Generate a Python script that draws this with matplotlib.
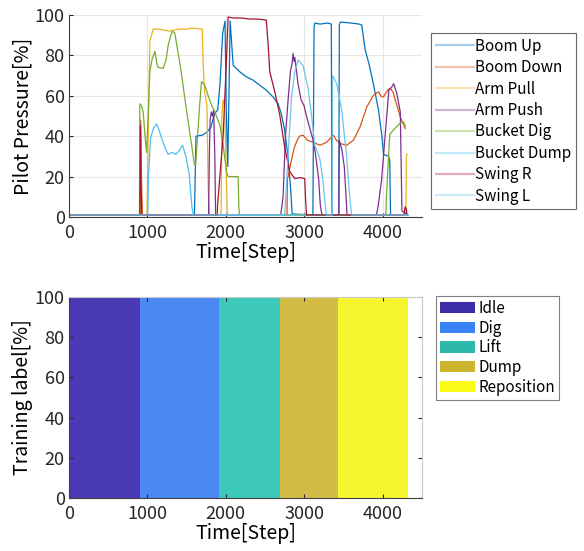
import numpy as np
import matplotlib
matplotlib.use("Agg")
import matplotlib.pyplot as plt
from matplotlib.patches import Patch

plt.rcParams['font.family'] = ['Noto Sans CJK JP', 'DejaVu Sans']
plt.rcParams['font.size'] = 12

# pilot pressure traces [%] vs time step
boom_up_x = [0, 900, 1600, 1620, 1700, 1760, 1811, 1854, 1897, 1926, 1960, 1990, 2005, 2025, 2040, 2055,
             2094, 2174, 2260, 2345, 2430, 2516, 2600, 2665, 2708, 2750, 2793, 2828, 2845,
             3110, 3125, 3135, 3200, 3300, 3345, 3352, 3440, 3447, 3460, 3600, 3700, 3733,
             3775, 3830, 3880, 3946, 3990, 4010, 4074, 4090, 4100, 4320]
boom_up_y = [1, 1, 1, 40, 40.5, 42, 44.6, 51, 53, 66, 91, 97, 55, 25, 60, 97,
             75, 72, 69.4, 67.8, 65.3, 62.8, 59.5, 56.2, 51, 43, 29.8, 13, 1.5,
             1, 94, 96, 95.5, 96, 95.5, 1, 1, 95, 96.5, 96, 95.5, 95,
             83, 75, 66, 53, 40, 31, 30, 28, 1, 1]

boom_down_x = [0, 905, 915, 925, 935, 2780, 2785, 2794, 2830, 2870, 2910, 2939, 2985, 3040, 3113,
               3200, 3285, 3370, 3410, 3455, 3540, 3626, 3711, 3797, 3882, 3946, 3983, 4010,
               4068, 4095, 4130, 4160, 4224, 4288]
boom_down_y = [1, 1, 48, 20, 1, 1, 19, 20, 27, 34, 38, 40, 40.5, 38, 37,
               35.5, 37, 40.5, 38, 36.4, 35.5, 38, 44.6, 54.5, 60.3, 62, 59.6, 59.5,
               63, 63.6, 62, 58, 49.6, 43.8]

arm_pull_x = [0, 905, 912, 920, 930, 995, 1010, 1032, 1074, 1150, 1277, 1400, 1500, 1576, 1683,
              1700, 1712, 1730, 1760, 1775, 1790, 1940, 1950, 1965, 1985, 2010, 2020,
              4295, 4302, 4310]
arm_pull_y = [1, 1, 35, 10, 1, 1, 40, 87, 93, 93, 92, 93, 93, 93.5, 93,
              93, 75, 62, 55, 15, 1, 1, 50, 58, 55, 15, 1,
              1, 31, 31]

arm_push_x = [0, 1780, 1790, 1800, 1815, 1830, 1845, 1860, 1870, 2700, 2730, 2760, 2794, 2823,
              2845, 2857, 2870, 2880, 2920, 2960, 2998, 3028, 3113, 3140, 3183, 3204, 3225,
              3440, 3447, 3480, 3510, 3530, 3545, 3920, 3940, 3985, 4030, 4079, 4110, 4140,
              4181, 4224, 4245, 4320]
arm_push_y = [1, 1, 30, 48, 52, 50, 53, 30, 1, 1, 10, 40, 58, 72,
              76, 81, 77, 79, 66, 58, 55, 50, 38, 32, 19, 6, 1,
              1, 38, 33, 25, 12, 1, 1, 5, 18, 40, 63, 64, 66,
              61, 52, 3, 1]

bucket_dig_x = [0, 900, 904, 925, 947, 970, 990, 1010, 1032, 1060, 1096, 1120, 1138, 1201, 1240,
                1265, 1300, 1320, 1350, 1384, 1427, 1491, 1555, 1600, 1615, 1640, 1662, 1690,
                1733, 1775, 1818, 1860, 1924, 1966, 2009, 2030, 2157, 2166, 2174, 4040, 4047,
                4090, 4160, 4224, 4267, 4288]
bucket_dig_y = [1, 1, 56, 55, 52, 40, 32, 50, 72, 78, 82, 76, 74, 73.6, 78,
                85, 90, 92, 91, 83, 73, 55, 38, 26, 26, 40, 53, 67,
                65.3, 60, 55.4, 52, 45.5, 35.6, 22.4, 20, 20, 5, 1, 1, 10,
                41, 44, 46.5, 47, 45]

bucket_dump_x = [0, 1005, 1015, 1040, 1080, 1117, 1150, 1181, 1230, 1265, 1320, 1363, 1410, 1448,
                 1491, 1534, 1568, 1585, 4320]
bucket_dump_y = [1, 1, 20, 39, 44, 46, 43, 39, 34, 31, 32, 31, 33, 35.5,
                 30, 21, 5, 1, 1]

swing_r_x = [0, 905, 912, 920, 930, 1890, 1895, 1966, 2009, 2030, 2100, 2200, 2300, 2400, 2516,
             2540, 2560, 2624, 2688, 2752, 2815, 2879, 2950, 3006, 3015, 3028, 4270, 4285,
             4300, 4310]
swing_r_y = [1, 1, 45, 15, 1, 1, 6, 40, 79, 99, 98.5, 98.5, 98, 98, 97.5,
             85, 72, 62, 50.5, 34, 22.4, 19, 19.5, 19, 10, 1, 1, 5,
             4, 1]

swing_l_x = [0, 2740, 2752, 2794, 2837, 2879, 2922, 2985, 3049, 3092, 3134, 3198, 3240, 3262,
             3283, 3355, 3360, 3413, 3477, 3540, 3583, 3605, 4320]
swing_l_y = [1, 1, 2, 30.7, 58.7, 72, 77.7, 75, 63.7, 50.5, 35.6, 29, 17.5, 8,
             1, 1, 70, 66, 53, 30, 8, 1, 1]

series_names = ["Boom Up", "Boom Down", "Arm Pull", "Arm Push",
                "Bucket Dig", "Bucket Dump", "Swing R", "Swing L"]
series_x = [boom_up_x, boom_down_x, arm_pull_x, arm_push_x,
            bucket_dig_x, bucket_dump_x, swing_r_x, swing_l_x]
series_y = [boom_up_y, boom_down_y, arm_pull_y, arm_push_y,
            bucket_dig_y, bucket_dump_y, swing_r_y, swing_l_y]
series_colors = ["#0072BD", "#D95319", "#EDB120", "#7E2F8E",
                 "#77AC30", "#4DBEEE", "#A2142F", "#6CC4EA"]

# training labels: phase start steps, last entry is the end of the record
phase_names = ["Idle", "Dig", "Lift", "Dump", "Reposition"]
phase_bounds = [0, 904, 1915, 2688, 3431, 4323]
phase_colors = ["#4A3AB4", "#4A88F2", "#3CC9BA", "#D2BC46", "#F6F630"]
legend_colors = ["#3D2CA8", "#3A82F8", "#2CB9AA", "#CDB52E", "#FAFA16"]

fig = plt.figure(figsize=(5.84, 5.51), dpi=100)
ax1 = fig.add_axes([0.118, 0.6062, 0.6045, 0.3666])
ax2 = fig.add_axes([0.118, 0.0962, 0.6045, 0.3648])

# upper panel
lines = []
for xs, ys, c, n in zip(series_x, series_y, series_colors, series_names):
    ln, = ax1.plot(xs, ys, color=c, lw=0.9, label=n)
    lines.append(ln)
ax1.set_xlim(0, 4500)
ax1.set_ylim(0, 100)
ax1.set_xticks([0, 1000, 2000, 3000, 4000])
ax1.set_yticks([0, 20, 40, 60, 80, 100])
ax1.grid(True, color="#e6e6e6", lw=0.8)
ax1.set_axisbelow(True)
for s in ["top", "right"]:
    ax1.spines[s].set_visible(False)
for s in ["left", "bottom"]:
    ax1.spines[s].set_color("#404040")
ax1.tick_params(direction="in", length=3, colors="#262626", labelsize=13)
ax1.tick_params(axis="x", pad=5)
ax1.tick_params(axis="y", pad=3)
ax1.set_xlabel("Time[Step]", fontsize=14, labelpad=0)
ax1.set_ylabel("Pilot Pressure[%]", fontsize=14, labelpad=1)
leg1 = ax1.legend(handles=lines, loc="upper left", bbox_to_anchor=(1.026, 0.91),
                  frameon=True, fancybox=False, edgecolor="#404040", fontsize=11,
                  handlelength=2.5, handletextpad=0.1, labelspacing=0.29,
                  borderpad=0.3, borderaxespad=0)
leg1.get_frame().set_linewidth(0.8)
for h in leg1.get_lines():
    h.set_alpha(0.35)
    h.set_linewidth(1.6)

# lower panel: one bar per step, coloured by its label
counts = np.diff(phase_bounds)
step_label = np.repeat(np.arange(len(phase_names)), counts)
steps = np.arange(phase_bounds[0], phase_bounds[-1])
bar_colors = [phase_colors[k] for k in step_label]
ax2.bar(steps, 100, width=1.0, align="edge", color=bar_colors, linewidth=0)
ax2.set_xlim(0, 4500)
ax2.set_ylim(0, 100)
ax2.set_xticks([0, 1000, 2000, 3000, 4000])
ax2.set_yticks([0, 20, 40, 60, 80, 100])
for s in ["top", "right"]:
    ax2.spines[s].set_color("#c8c8c8")
for s in ["left", "bottom"]:
    ax2.spines[s].set_color("#404040")
ax2.tick_params(direction="in", length=3, colors="#262626", labelsize=13,
                top=True, right=True)
ax2.tick_params(axis="x", pad=5)
ax2.tick_params(axis="y", pad=3)
ax2.set_xlabel("Time[Step]", fontsize=14, labelpad=0)
ax2.set_ylabel("Training label[%]", fontsize=14, labelpad=1)
patches = [Patch(facecolor=c, edgecolor="none", label=n) for c, n in zip(legend_colors, phase_names)]
leg2 = ax2.legend(handles=patches, loc="upper left", bbox_to_anchor=(1.04, 1.005),
                  frameon=True, fancybox=False, edgecolor="#606060", fontsize=11,
                  handlelength=2.3, handleheight=0.75, handletextpad=0.25,
                  labelspacing=0.18, borderpad=0.25, borderaxespad=0)
leg2.get_frame().set_linewidth(0.8)

fig.savefig("out.png", dpi=100)
